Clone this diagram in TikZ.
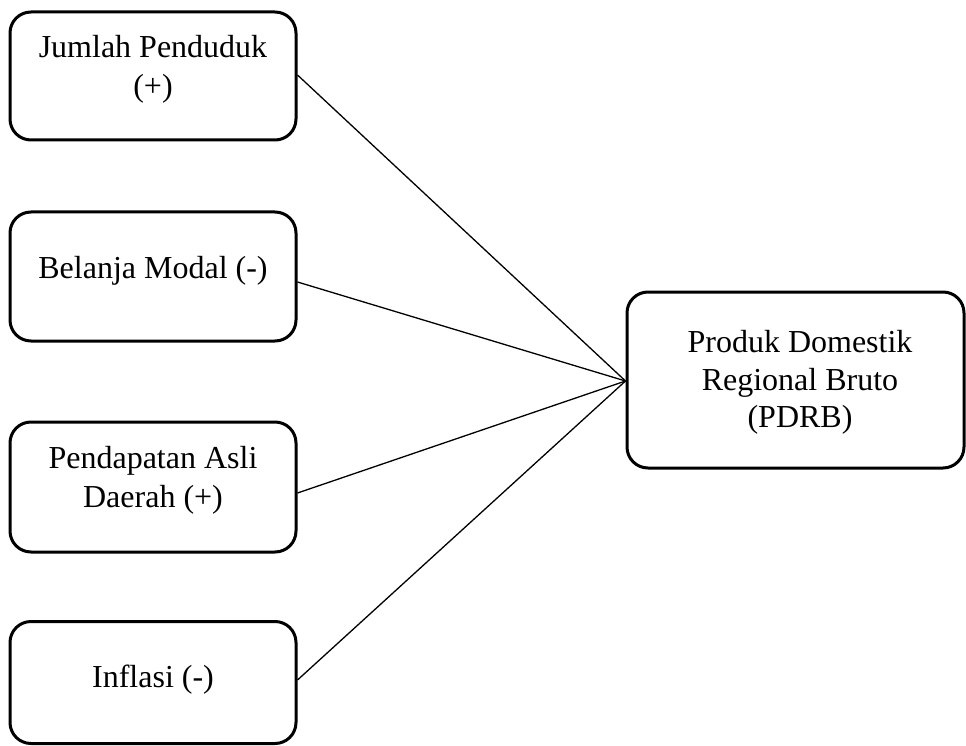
\documentclass[tikz,border=0pt]{standalone}
\usepackage{fontspec}
\setmainfont{Liberation Serif}
\begin{document}
\begin{tikzpicture}[x=1pt,y=-1pt,
  box/.style={draw=black, line width=3pt, rounded corners=21pt, inner sep=0pt},
  txt/.style={anchor=base, inner sep=0pt, font=\fontsize{32}{38}\selectfont},
  conn/.style={draw=black, line width=1.3pt}]
\useasboundingbox (0,0) rectangle (966,746);
% left boxes
\node[box, minimum width=286pt, minimum height=128pt] (b1) at (153,76) {};
\node[box, minimum width=286pt, minimum height=129pt] (b2) at (153,276.5) {};
\node[box, minimum width=286pt, minimum height=130pt] (b3) at (153,487) {};
\node[box, minimum width=286pt, minimum height=122pt] (b4) at (153,682.5) {};
% right box
\node[box, minimum width=337pt, minimum height=176pt] (r) at (795.5,380) {};
% texts
\node[txt] (t1a) at (153,58) {Jumlah Penduduk};
\node[txt] (t1b) at (153,97) {(+)};
\node[txt] (t2) at (153,278) {Belanja Modal (-)};
\node[txt] (t3a) at (153,468) {Pendapatan Asli};
\node[txt] (t3b) at (153,507) {Daerah (+)};
\node[txt] (t4) at (153,687) {Inflasi (-)};
\node[txt] (r1) at (800,352) {Produk Domestik};
\node[txt] (r2) at (800,390) {Regional Bruto};
\node[txt] (r3) at (800,427) {(PDRB)};
% connector ends
\coordinate (s1) at (b1.east |- 0,75);
\coordinate (s2) at (b2.east |- 0,282);
\coordinate (s3) at (b3.east |- 0,493);
\coordinate (s4) at (b4.east |- 0,680);
\coordinate (t) at (r.west |- 0,381);
\draw[conn] (s1) -- (t);
\draw[conn] (s2) -- (t);
\draw[conn] (s3) -- (t);
\draw[conn] (s4) -- (t);
\end{tikzpicture}
\end{document}
